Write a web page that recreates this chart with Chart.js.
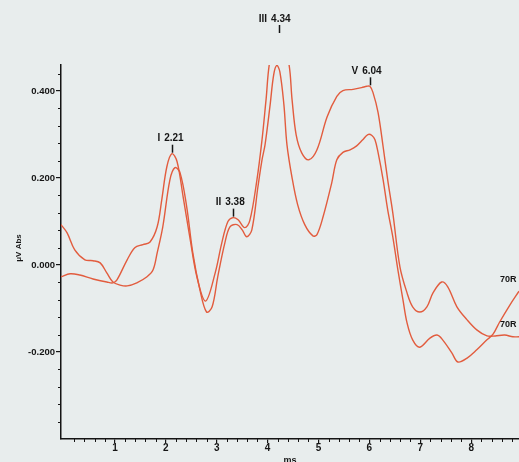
<!DOCTYPE html>
<html lang="en">
<head>
    <meta charset="UTF-8">
    <title>ABR 70R</title>
<script src="https://cdn.jsdelivr.net/npm/chart.js@4.4.1/dist/chart.umd.min.js"></script>
<style>
    html, body { margin: 0; padding: 0; background: #e8eded; }
</style>
</head>
<body>
    <canvas id="myChart" width="519" height="462"></canvas>
<script>
// trace values (ms, uV)
const timeA = [-0.06,0.12,0.31,0.57,0.84,0.96,1.04,1.24,1.39,1.55,1.69,1.83,1.92,2.02,2.12,2.22,2.34,2.48,2.61,2.78,2.97,3.10,3.22,3.32,3.42,3.55,3.65,3.79,3.89,3.97,4.05,4.22,4.41,4.48,4.56,4.67,4.81,4.97,5.17,5.36,5.48,5.68,5.85,5.95,6.01,6.07,6.17,6.27,6.36,6.46,6.60,6.74,6.85,6.99,7.13,7.25,7.42,7.54,7.72,7.92,8.11,8.31,8.47,8.66,8.82,8.94];
const valuesA = [-0.027,-0.020,-0.023,-0.032,-0.039,-0.041,-0.034,0.012,0.040,0.047,0.053,0.088,0.150,0.226,0.256,0.238,0.157,0.058,-0.027,-0.083,-0.018,0.051,0.100,0.109,0.104,0.086,0.102,0.196,0.288,0.381,0.473,0.53,0.468,0.381,0.300,0.258,0.242,0.265,0.341,0.388,0.401,0.404,0.408,0.411,0.411,0.397,0.351,0.272,0.196,0.120,-0.004,-0.064,-0.096,-0.108,-0.096,-0.064,-0.039,-0.050,-0.096,-0.126,-0.149,-0.163,-0.163,-0.161,-0.165,-0.165];

const timeB = [-0.06,0.06,0.21,0.41,0.57,0.71,0.84,0.96,1.10,1.24,1.43,1.63,1.75,1.83,1.94,2.08,2.18,2.28,2.41,2.53,2.67,2.80,2.91,3.02,3.16,3.26,3.40,3.50,3.59,3.69,3.81,3.89,3.95,4.05,4.12,4.18,4.24,4.32,4.38,4.48,4.59,4.73,4.89,4.97,5.09,5.26,5.36,5.48,5.62,5.75,5.87,5.97,6.05,6.11,6.17,6.27,6.36,6.46,6.56,6.66,6.74,6.85,6.99,7.19,7.33,7.44,7.62,7.74,7.92,8.11,8.31,8.43,8.56,8.76,8.94];
const valuesB = [0.093,0.074,0.035,0.012,0.010,0.005,-0.018,-0.039,-0.046,-0.048,-0.041,-0.027,-0.011,0.028,0.088,0.196,0.224,0.212,0.134,0.028,-0.057,-0.108,-0.096,-0.027,0.051,0.088,0.093,0.081,0.065,0.081,0.180,0.242,0.277,0.369,0.438,0.459,0.445,0.369,0.277,0.201,0.139,0.093,0.067,0.070,0.111,0.189,0.242,0.259,0.265,0.274,0.288,0.300,0.298,0.288,0.259,0.196,0.127,0.065,-0.011,-0.080,-0.133,-0.172,-0.189,-0.168,-0.161,-0.172,-0.202,-0.223,-0.214,-0.195,-0.172,-0.159,-0.131,-0.092,-0.060];

const traceNames = ['70R', '70R'];

// wave markers on trace A
const peakNames = ['I', 'II', 'III', 'V'];
const peakLatency = ['2.21', '3.38', '4.34', '6.04'];
const peakTime = [2.12, 3.32, 4.22, 6.01];
const peakValue = [0.256, 0.109, 0.53, 0.411];

const xTicks = [1, 2, 3, 4, 5, 6, 7, 8];
const yTicks = [-0.2, 0, 0.2, 0.4];

const lineColor = 'rgb(226,92,62)';
const ink = '#151515';
const fontName = '"Liberation Sans", Arial, sans-serif';

var toPoints = function(t, v) {
    return t.map(function(x, i) { return {x: x, y: v[i]}; });
};

// minor ticks, peak labels, end labels, axis titles
const decor = {
    id: 'decor',
    beforeDraw: function(chart) {
        const c = chart.ctx;
        c.save();
        c.fillStyle = '#e8eded';
        c.fillRect(0, 0, chart.width, chart.height);
        c.restore();
    },
    afterDraw: function(chart) {
        const c = chart.ctx;
        const xs = chart.scales.x, ys = chart.scales.y;
        const area = chart.chartArea;
        c.save();
        c.strokeStyle = ink;
        c.lineWidth = 1;
        c.beginPath();
        for (var i = 1; i < 45; i++) {
            var v = i * 0.2;
            if (i % 5 === 0 || v > xs.max) continue;
            var px = Math.round(xs.getPixelForValue(v)) + 0.5;
            c.moveTo(px, area.bottom);
            c.lineTo(px, area.bottom + 3);
        }
        for (var j = -9; j <= 11; j++) {
            var w = j * 0.04;
            if (j % 5 === 0) continue;
            var py = Math.round(ys.getPixelForValue(w)) + 0.5;
            c.moveTo(area.left - 3, py);
            c.lineTo(area.left, py);
        }
        c.stroke();

        // peak markers
        c.fillStyle = ink;
        c.lineWidth = 1.5;
        c.font = 'bold 10px ' + fontName;
        c.textBaseline = 'middle';
        for (var k = 0; k < peakNames.length; k++) {
            var mx = xs.getPixelForValue(peakTime[k]);
            var my = peakValue[k] > ys.max ? area.top - 32 : ys.getPixelForValue(peakValue[k]) - 1;
            c.beginPath();
            c.moveTo(Math.round(mx) + 0.5, my - 8);
            c.lineTo(Math.round(mx) + 0.5, my);
            c.stroke();
            var lw = c.measureText(peakLatency[k]).width;
            c.textAlign = 'center';
            c.fillText(peakLatency[k], mx + 2, my - 14);
            c.textAlign = 'right';
            c.fillText(peakNames[k], mx + 2 - lw / 2 - 4, my - 14);
        }

        // trace names at right end
        c.font = 'bold 9px ' + fontName;
        c.textAlign = 'left';
        var ends = [valuesB[valuesB.length - 1], valuesA[valuesA.length - 1]];
        for (var n = 0; n < ends.length; n++) {
            c.fillText(traceNames[n], 500, ys.getPixelForValue(ends[n]) - 12);
        }

        // axis titles
        c.font = 'bold 8px ' + fontName;
        c.textAlign = 'center';
        c.save();
        c.translate(19, (area.top + area.bottom) / 2 - 4);
        c.rotate(-Math.PI / 2);
        c.fillText('\u03bcV Abs', 0, 0);
        c.restore();
        c.font = 'bold 9px ' + fontName;
        c.textBaseline = 'top';
        c.fillText('ms', (area.left + area.right) / 2, 456);
        c.restore();
    }
};

const ctx = document.getElementById('myChart').getContext('2d');
const myChart = new Chart(ctx, {
    type: 'line',
    data: {
        datasets: [{
            label: traceNames[0],
            data: toPoints(timeA, valuesA),
            borderColor: lineColor,
            borderWidth: 1.4,
            pointRadius: 0,
            tension: 0.35
        }, {
            label: traceNames[1],
            data: toPoints(timeB, valuesB),
            borderColor: lineColor,
            borderWidth: 1.4,
            pointRadius: 0,
            tension: 0.35
        }]
    },
    options: {
        responsive: false,
        animation: false,
        layout: { padding: { top: 65, left: 0, right: 0, bottom: 0 } },
        plugins: { legend: { display: false }, tooltip: { enabled: false } },
        scales: {
            x: {
                type: 'linear',
                min: -0.06,
                max: 8.94,
                afterBuildTicks: function(s) { s.ticks = xTicks.map(function(v) { return {value: v}; }); },
                afterFit: function(s) { s.height = 23; },
                grid: { display: true, drawOnChartArea: false, tickLength: 4, color: ink, lineWidth: 1.2 },
                border: { display: true, color: ink, width: 1.5 },
                ticks: {
                    color: ink,
                    padding: 0,
                    maxRotation: 0,
                    font: { family: fontName, size: 10, weight: 'bold', lineHeight: 1 },
                    callback: function(v) { return String(v); }
                }
            },
            y: {
                min: -0.4,
                max: 0.46,
                afterBuildTicks: function(s) { s.ticks = yTicks.map(function(v) { return {value: v}; }); },
                afterFit: function(s) { s.width = 61; },
                grid: { display: true, drawOnChartArea: false, tickLength: 5, color: ink, lineWidth: 1.2 },
                border: { display: true, color: ink, width: 1.5 },
                ticks: {
                    color: ink,
                    padding: 1,
                    font: { family: fontName, size: 9.5, weight: 'bold' },
                    callback: function(v) { return Number(v).toFixed(3); }
                }
            }
        }
    },
    plugins: [decor]
});
</script>
</body>
</html>
